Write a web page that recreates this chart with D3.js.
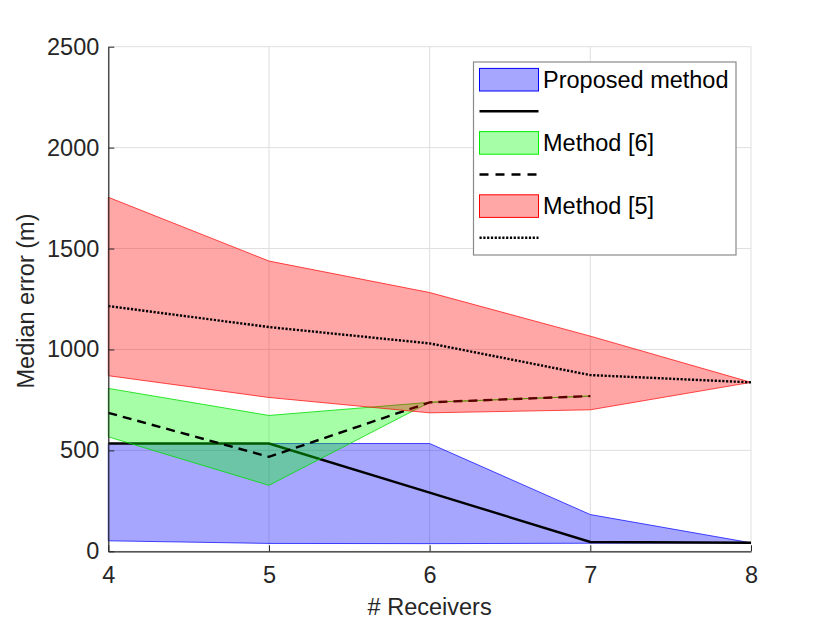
<!DOCTYPE html>
<html>
<head>
<meta charset="utf-8">
<script src="https://cdn.jsdelivr.net/npm/d3@7"></script>
<style>
  html, body { margin: 0; padding: 0; background: #fff; }
  svg { display: block; font-family: "Liberation Sans", Arial, Helvetica, sans-serif; }
</style>
</head>
<body>
<svg id="chart" width="830" height="623"></svg>
<script>
// ---- data ----
const receivers = [4, 5, 6, 7, 8];
const proposedMedian = [534, 534, 291, 46, 42];
const proposedLow    = [52, 39, 38, 40, 42];
const proposedHigh   = [534, 534, 534, 182, 42];

const m6Receivers = [4, 5, 6, 7];
const m6Median = [686, 468, 738, 769];
const m6Low    = [567, 327, 738, 769];
const m6High   = [807, 673, 738, 769];

const m5Median = [1215, 1111, 1030, 873, 837];
const m5Low    = [870, 762, 686, 701, 837];
const m5High   = [1754, 1438, 1282, 1066, 837];

const xTicks = [4, 5, 6, 7, 8];
const yTicks = [0, 500, 1000, 1500, 2000, 2500];
const legendLabels = ["Proposed method", "", "Method [6]", "", "Method [5]", ""];

// ---- layout ----
const svg = d3.select("#chart");
const L = 108.3, R = 751, T = 46.7, B = 551.3;
const x = d3.scaleLinear().domain([4, 8]).range([L, R]);
const y = d3.scaleLinear().domain([0, 2500]).range([B, T]);
const axisColor = "#262626";
const fontSize = 23.5;
const lw = 2.4;

// grid
const grid = svg.append("g");
grid.selectAll(".gx").data(xTicks).enter().append("line")
  .attr("x1", d => x(d)).attr("x2", d => x(d)).attr("y1", T).attr("y2", B)
  .attr("stroke", "#dfdfdf").attr("stroke-width", 1);
grid.selectAll(".gy").data(yTicks).enter().append("line")
  .attr("x1", L).attr("x2", R).attr("y1", d => y(d)).attr("y2", d => y(d))
  .attr("stroke", "#dfdfdf").attr("stroke-width", 1);

// helpers
function band(xs, lo, hi) {
  const pts = xs.map((v, i) => [x(v), y(hi[i])]);
  for (let i = xs.length - 1; i >= 0; i--) pts.push([x(xs[i]), y(lo[i])]);
  return "M" + pts.map(p => p.join(",")).join("L") + "Z";
}
const line = d3.line().x(d => x(d[0])).y(d => y(d[1]));
const plot = svg.append("g");

// Proposed
plot.append("path").attr("d", band(receivers, proposedLow, proposedHigh))
  .attr("fill", "#0000ff").attr("fill-opacity", 0.35)
  .attr("stroke", "#0000ff").attr("stroke-opacity", 0.7).attr("stroke-width", 1);
plot.append("path").attr("d", line(receivers.map((v, i) => [v, proposedMedian[i]])))
  .attr("fill", "none").attr("stroke", "#000").attr("stroke-width", lw);

// Method [6]
plot.append("path").attr("d", band(m6Receivers, m6Low, m6High))
  .attr("fill", "#00ff00").attr("fill-opacity", 0.35)
  .attr("stroke", "#00dd00").attr("stroke-opacity", 0.8).attr("stroke-width", 1);
plot.append("path").attr("d", line(m6Receivers.map((v, i) => [v, m6Median[i]])))
  .attr("fill", "none").attr("stroke", "#000").attr("stroke-width", lw)
  .attr("stroke-dasharray", "9,6");

// Method [5]
plot.append("path").attr("d", band(receivers, m5Low, m5High))
  .attr("fill", "#ff0000").attr("fill-opacity", 0.35)
  .attr("stroke", "#ff0000").attr("stroke-opacity", 0.7).attr("stroke-width", 1);
plot.append("path").attr("d", line(receivers.map((v, i) => [v, m5Median[i]])))
  .attr("fill", "none").attr("stroke", "#000").attr("stroke-width", lw)
  .attr("stroke-dasharray", "2.2,1.6");

// axes
const xAxis = svg.append("g").attr("transform", `translate(0,${B})`)
  .call(d3.axisBottom(x).tickValues(xTicks).tickFormat(d3.format("d")).tickSizeInner(-6).tickSizeOuter(0).tickPadding(15));
const yAxis = svg.append("g").attr("transform", `translate(${L},0)`)
  .call(d3.axisLeft(y).tickValues(yTicks).tickFormat(d3.format("d")).tickSizeInner(-6).tickSizeOuter(0).tickPadding(9));
[xAxis, yAxis].forEach(a => {
  a.select(".domain").attr("stroke", axisColor).attr("stroke-width", 1.2);
  a.selectAll(".tick line").attr("stroke", axisColor).attr("stroke-width", 1);
  a.selectAll(".tick text").attr("fill", axisColor).style("font-size", fontSize + "px")
    .style("font-family", '"Liberation Sans", Arial, sans-serif');
});

// axis labels
svg.append("text").attr("x", (L + R) / 2).attr("y", 615)
  .attr("text-anchor", "middle").attr("fill", axisColor)
  .style("font-size", fontSize + "px").text("# Receivers");
svg.append("text").attr("transform", `translate(34,${(T + B) / 2 + 2}) rotate(-90)`)
  .attr("text-anchor", "middle").attr("fill", axisColor)
  .style("font-size", fontSize + "px").text("Median error (m)");

// legend
const lg = svg.append("g");
lg.append("rect").attr("x", 473.5).attr("y", 62).attr("width", 262.5).attr("height", 193)
  .attr("fill", "#fff").attr("stroke", "#8a8a8a").attr("stroke-width", 1.2);
const legendItems = [
  { type: "patch", fill: "#0000ff", stroke: "#0000ff" },
  { type: "line", dash: null },
  { type: "patch", fill: "#00ff00", stroke: "#00ee00" },
  { type: "line", dash: "9,7" },
  { type: "patch", fill: "#ff0000", stroke: "#ff0000" },
  { type: "line", dash: "2.2,1.6" }
];
legendItems.forEach((it, i) => {
  const cy = 79.7 + i * 31.6;
  if (it.type === "patch") {
    lg.append("rect").attr("x", 479.5).attr("y", cy - 11.3).attr("width", 59).attr("height", 22.6)
      .attr("fill", it.fill).attr("fill-opacity", 0.35).attr("stroke", it.stroke).attr("stroke-width", 1);
  } else {
    const l = lg.append("line").attr("x1", 479.5).attr("x2", 538.5).attr("y1", cy).attr("y2", cy)
      .attr("stroke", "#000").attr("stroke-width", lw);
    if (it.dash) l.attr("stroke-dasharray", it.dash);
  }
  if (legendLabels[i]) {
    lg.append("text").attr("x", 543).attr("y", cy).attr("dy", "0.35em")
      .attr("fill", "#000").style("font-size", fontSize + "px").text(legendLabels[i]);
  }
});
</script>
</body>
</html>
